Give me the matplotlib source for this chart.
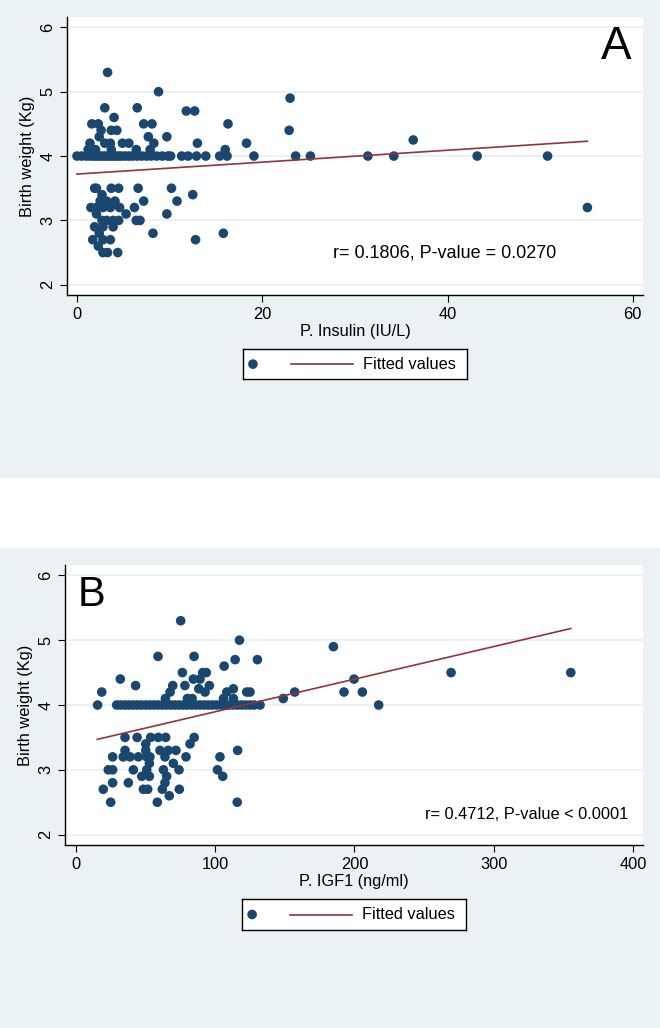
import matplotlib
matplotlib.use("Agg")
import matplotlib.pyplot as plt
from matplotlib.patches import Rectangle

plt.rcParams['font.family'] = ['Liberation Sans', 'DejaVu Sans']

# Panel A: plasma insulin vs birth weight
insulin = [3.3, 8.8, 23.0, 3.0, 6.5, 11.8, 12.7, 4.0,
           1.6, 2.3, 7.2, 8.1, 16.3, 2.6, 3.7, 4.3, 22.9, 2.4, 7.7, 9.7, 36.3,
           1.4, 3.0, 3.6, 4.9, 5.6, 8.3, 13.0, 18.3, 1.2, 2.0, 3.7, 6.4, 7.9, 16.0,
           0.0, 0.5, 1.0, 1.4, 1.8, 2.1, 2.4, 2.7, 3.0, 3.3, 3.6, 3.9, 4.2, 4.5,
           4.8, 5.2, 5.6, 6.0, 6.5, 7.0, 7.5, 8.0, 8.6, 9.2, 9.8, 10.1, 11.3, 12.0,
           12.9, 13.9, 15.4, 16.2, 19.1, 23.6, 25.2, 31.4, 34.2, 43.2, 50.8,
           1.9, 2.1, 3.7, 4.5, 6.6, 10.2, 2.7, 12.5, 2.5, 3.2, 4.1, 7.2, 10.8,
           1.5, 2.1, 2.8, 3.6, 4.6, 6.2, 55.1, 2.1, 5.3, 9.7,
           2.7, 3.2, 3.9, 4.5, 6.4, 6.8, 1.9, 2.8, 3.9, 2.4, 8.2, 15.8,
           1.7, 2.8, 3.6, 12.8, 2.3, 2.8, 3.3, 4.4]
weight_a = [5.3, 5.0, 4.9, 4.75, 4.75, 4.7, 4.7, 4.6,
            4.5, 4.5, 4.5, 4.5, 4.5, 4.4, 4.4, 4.4, 4.4, 4.3, 4.3, 4.3, 4.25,
            4.2, 4.2, 4.2, 4.2, 4.2, 4.2, 4.2, 4.2, 4.1, 4.1, 4.1, 4.1, 4.1, 4.1,
            4.0, 4.0, 4.0, 4.0, 4.0, 4.0, 4.0, 4.0, 4.0, 4.0, 4.0, 4.0, 4.0, 4.0,
            4.0, 4.0, 4.0, 4.0, 4.0, 4.0, 4.0, 4.0, 4.0, 4.0, 4.0, 4.0, 4.0, 4.0,
            4.0, 4.0, 4.0, 4.0, 4.0, 4.0, 4.0, 4.0, 4.0, 4.0, 4.0,
            3.5, 3.5, 3.5, 3.5, 3.5, 3.5, 3.4, 3.4, 3.3, 3.3, 3.3, 3.3, 3.3,
            3.2, 3.2, 3.2, 3.2, 3.2, 3.2, 3.2, 3.1, 3.1, 3.1,
            3.0, 3.0, 3.0, 3.0, 3.0, 3.0, 2.9, 2.9, 2.9, 2.8, 2.8, 2.8,
            2.7, 2.7, 2.7, 2.7, 2.6, 2.5, 2.5, 2.5]
fit_x_a = [0.0, 55.1]
fit_y_a = [3.72, 4.23]

# Panel B: plasma IGF1 vs birth weight
igf1 = [75.2, 117.4, 184.9, 58.9, 84.8, 114.3, 130.3, 106.4,
        76.4, 91.0, 93.6, 269.4, 355.4, 31.8, 84.3, 89.1, 199.7,
        42.8, 69.5, 78.2, 95.8, 88.2, 113.0,
        18.5, 67.6, 92.7, 108.3, 122.6, 125.0, 157.1, 192.5, 205.7,
        64.2, 80.0, 83.4, 105.9, 113.1, 148.9,
        15.5, 29.2, 32, 35, 38, 41, 44, 47, 50, 53, 56, 59, 62, 65, 68, 71, 74,
        77, 80, 83, 86, 89, 92, 95, 98, 101, 104, 107, 110, 113, 116, 119, 122,
        125, 128, 132.2, 217.4,
        35.2, 43.9, 53.6, 59.1, 64.4, 84.9, 50.1, 81.9,
        35.2, 50.1, 60.3, 66.3, 71.8, 116.1,
        26.3, 33.9, 38.8, 44.8, 50.8, 53.1, 63.9, 79.0, 103.4, 52.7, 69.9,
        23.2, 26.3, 41.2, 50.8, 62.8, 74.0, 101.6, 47.2, 52.7, 65.1, 105.4,
        26.3, 37.6, 63.9, 19.6, 48.4, 51.5, 62.0, 74.2, 67.0, 24.9, 58.4, 115.8]
weight_b = [5.3, 5.0, 4.9, 4.75, 4.75, 4.7, 4.7, 4.6,
            4.5, 4.5, 4.5, 4.5, 4.5, 4.4, 4.4, 4.4, 4.4,
            4.3, 4.3, 4.3, 4.3, 4.25, 4.25,
            4.2, 4.2, 4.2, 4.2, 4.2, 4.2, 4.2, 4.2, 4.2,
            4.1, 4.1, 4.1, 4.1, 4.1, 4.1,
            4.0, 4.0, 4.0, 4.0, 4.0, 4.0, 4.0, 4.0, 4.0, 4.0, 4.0, 4.0, 4.0, 4.0, 4.0, 4.0, 4.0,
            4.0, 4.0, 4.0, 4.0, 4.0, 4.0, 4.0, 4.0, 4.0, 4.0, 4.0, 4.0, 4.0, 4.0, 4.0, 4.0,
            4.0, 4.0, 4.0, 4.0,
            3.5, 3.5, 3.5, 3.5, 3.5, 3.5, 3.4, 3.4,
            3.3, 3.3, 3.3, 3.3, 3.3, 3.3,
            3.2, 3.2, 3.2, 3.2, 3.2, 3.2, 3.2, 3.2, 3.2, 3.1, 3.1,
            3.0, 3.0, 3.0, 3.0, 3.0, 3.0, 3.0, 2.9, 2.9, 2.9, 2.9,
            2.8, 2.8, 2.8, 2.7, 2.7, 2.7, 2.7, 2.7, 2.6, 2.5, 2.5, 2.5]
fit_x_b = [15.3, 355.4]
fit_y_b = [3.47, 5.18]

navy = '#1a476f'
maroon = '#90353b'
bg = '#eaf2f3'

fig = plt.figure(figsize=(6.6, 10.28), dpi=100)
fig.patches.append(Rectangle((0, 0.535), 1, 0.465, transform=fig.transFigure,
                             facecolor=bg, edgecolor='none', zorder=-10))
fig.patches.append(Rectangle((0, 0), 1, 0.4669, transform=fig.transFigure,
                             facecolor=bg, edgecolor='none', zorder=-10))


def panel(rect, x, y, fx, fy, xlim, xticks, xlabel, letter, letter_pos, letter_size,
          stat, stat_pos, stat_ha, stat_size, leg_rect):
    ax = fig.add_axes(rect)
    ax.set_facecolor('white')
    ax.scatter(x, y, s=48, color=navy, edgecolors='none', zorder=3)
    ax.plot(fx, fy, color=maroon, lw=1.2, zorder=4)
    ax.set_xlim(xlim)
    ax.set_ylim(1.84, 6.16)
    ax.set_xticks(xticks)
    ax.set_yticks([2, 3, 4, 5, 6])
    ax.grid(axis='y', color=bg, lw=1.5, zorder=0)
    ax.set_axisbelow(True)
    for s in ['top', 'right']:
        ax.spines[s].set_visible(False)
    for s in ['left', 'bottom']:
        ax.spines[s].set_linewidth(1.0)
    ax.tick_params(length=5, width=0.8, labelsize=11.8, pad=3.5)
    for lab in ax.get_yticklabels():
        lab.set_rotation(90)
        lab.set_va('center')
    ax.set_xlabel(xlabel, fontsize=11.8, labelpad=1.5)
    ax.set_ylabel('Birth weight (Kg)', fontsize=11.8, labelpad=4)
    ax.text(letter_pos[0], letter_pos[1], letter, transform=ax.transAxes,
            fontsize=letter_size, ha='center', va='center')
    ax.text(stat_pos[0], stat_pos[1], stat, fontsize=stat_size, ha=stat_ha,
            va='center')

    # legend box in the Stata style: marker with empty label, then the fit line
    lg = fig.add_axes(leg_rect)
    lg.set_xlim(0, 1)
    lg.set_ylim(0, 1)
    lg.set_xticks([])
    lg.set_yticks([])
    for s in lg.spines.values():
        s.set_linewidth(1.0)
    lg.scatter([0.045], [0.5], s=48, color=navy, edgecolors='none')
    lg.plot([0.215, 0.49], [0.5, 0.5], color=maroon, lw=1.2)
    lg.text(0.535, 0.5, 'Fitted values', fontsize=11.8, va='center', ha='left')
    return ax


panel([0.1015, 0.7130, 0.8727, 0.2704], insulin, weight_a, fit_x_a, fit_y_a,
      (-1.08, 61.1), [0, 20, 40, 60], 'P. Insulin (IU/L)', 'A', (0.953, 0.894), 33,
      'r= 0.1806, P-value = 0.0270', (27.6, 2.5), 'left', 13,
      [0.368, 0.6313, 0.339, 0.029])

panel([0.0985, 0.1780, 0.8758, 0.2724], igf1, weight_b, fit_x_b, fit_y_b,
      (-7.9, 407.3), [0, 100, 200, 300, 400], 'P. IGF1 (ng/ml)', 'B', (0.046, 0.893), 30,
      'r= 0.4712, P-value < 0.0001', (396.6, 2.31), 'right', 11.8,
      [0.3667, 0.0953, 0.3394, 0.0302])

fig.savefig('out.png', dpi=100)
